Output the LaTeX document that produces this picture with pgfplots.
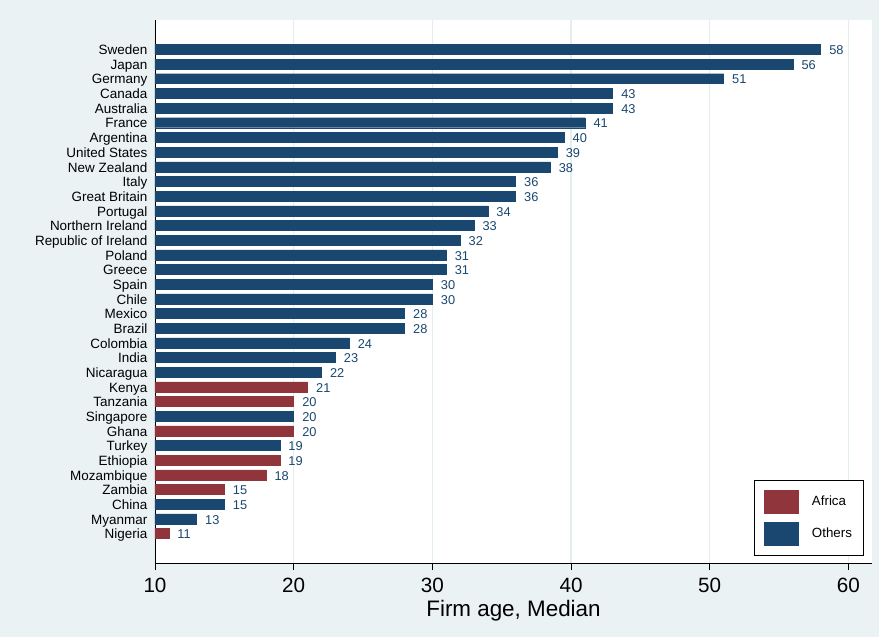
\documentclass[border=0pt]{standalone}
\usepackage{pgfplots}
\pgfplotsset{compat=1.18}
\usepackage{fontspec}
\setmainfont{Liberation Sans}
\definecolor{bgc}{RGB}{234,242,243}
\definecolor{sblue}{RGB}{26,71,111}
\definecolor{sred}{RGB}{144,53,59}
\definecolor{gridc}{RGB}{228,237,239}
\begin{document}
\begin{tikzpicture}
\fill[bgc] (-116.25pt,-55.5pt) rectangle (543pt,422.25pt);
\useasboundingbox (-116.25pt,-55.5pt) rectangle (543pt,422.25pt);
\begin{axis}[
  at={(0pt,0pt)}, anchor=south west,
  scale only axis, width=537.75pt, height=407.25pt,
  axis background/.style={fill=white},
  xbar, bar width=0.68, bar shift=0pt,
  xmin=10, xmax=61.7, ymin=-1, ymax=36,
  axis x line*=bottom, axis y line*=left,
  axis line style={black, line width=0.6pt, -},
  xtick={10,20,...,60},
  xtick align=outside,
  major tick length=5.25pt,
  xtick style={black, line width=0.6pt},
  /pgf/number format/assume math mode=true,
  xticklabel style={font=\fontsize{15.5}{18}\selectfont, inner sep=0pt, yshift=-6pt},
  xmajorgrids, grid style={gridc, line width=0.9pt},
  xlabel={Firm age, Median},
  xlabel style={font=\fontsize{16.8}{20}\selectfont, inner sep=0pt, yshift=-5pt},
  ytick={1,...,34},
  yticklabels={Nigeria, Myanmar, China, Zambia, Mozambique, Ethiopia, Turkey, Ghana, Singapore, Tanzania, Kenya, Nicaragua, India, Colombia, Brazil, Mexico, Chile, Spain, Greece, Poland, Republic of Ireland, Northern Ireland, Portugal, Great Britain, Italy, New Zealand, United States, Argentina, France, Australia, Canada, Germany, Japan, Sweden},
  ytick style={draw=none},
  yticklabel style={font=\fontsize{10.1}{12}\selectfont, inner sep=0pt, anchor=mid east, xshift=-0.3pt, yshift=-1.3pt},
  nodes near coords,
  point meta=explicit symbolic,
  every node near coord/.append style={font=\fontsize{9.6}{11}\selectfont, text=sblue, anchor=mid west, inner sep=0pt, xshift=6.3pt, yshift=-1.3pt},
  legend image code/.code={\fill[#1] (0pt,-8.6pt) rectangle (25.5pt,8.6pt); \path[draw=none,fill=none] (25.5pt,0pt) -- (36pt,0pt);},
  legend style={at={(axis description cs:1,0)}, anchor=south east, xshift=-6pt, yshift=5.25pt,
    draw=black, line width=0.5pt, fill=white,
    font=\fontsize{10}{12}\selectfont, row sep=6.4pt,
    inner xsep=6.75pt, inner ysep=7.5pt,
    nodes={inner sep=0pt, text width=32pt, align=left}},
  legend cell align=left,
]
\addplot[fill=sred, draw=sred, line width=0.3pt] coordinates {
(21,11) [21]
(20,10) [20]
(20,8) [20]
(19,6) [19]
(18,5) [18]
(15,4) [15]
(11,1) [11]
};
\addplot[fill=sblue, draw=sblue, line width=0.3pt] coordinates {
(58,34) [58]
(56,33) [56]
(51,32) [51]
(43,31) [43]
(43,30) [43]
(41,29) [41]
(39.5,28) [40]
(39,27) [39]
(38.5,26) [38]
(36,25) [36]
(36,24) [36]
(34,23) [34]
(33,22) [33]
(32,21) [32]
(31,20) [31]
(31,19) [31]
(30,18) [30]
(30,17) [30]
(28,16) [28]
(28,15) [28]
(24,14) [24]
(23,13) [23]
(22,12) [22]
(20,9) [20]
(19,7) [19]
(15,3) [15]
(13,2) [13]
};
\legend{Africa, Others}
\end{axis}
\end{tikzpicture}
\end{document}
